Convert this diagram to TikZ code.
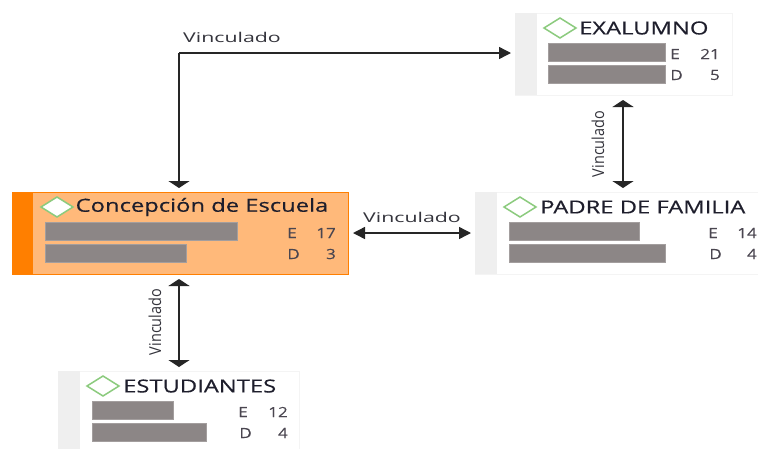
\documentclass[tikz,border=0pt]{standalone}
\usepackage{graphicx}
\usepackage{fontspec}
\setmainfont{Open Sans}
\newfontfamily\titlefont[FakeBold=0.35]{Open Sans}
\newfontfamily\numfont[FakeBold=0.15]{Open Sans}
\usetikzlibrary{arrows.meta}
\definecolor{barc}{HTML}{8C8686}
\definecolor{sidec}{HTML}{EFEFEF}
\definecolor{edgec}{HTML}{F4F4F4}
\definecolor{orangeb}{HTML}{FF7F00}
\definecolor{orangef}{HTML}{FFB97A}
\definecolor{diam}{HTML}{8CCB7E}
\definecolor{txtc}{HTML}{1E1E2C}
\definecolor{numc}{HTML}{4A4650}
\definecolor{labc}{HTML}{34343C}
\newcommand{\wideT}[1]{\scalebox{1.32}[1]{#1}}
\newcommand{\wideN}[1]{\scalebox{1.22}[1]{#1}}
\newcommand{\wideL}[1]{\scalebox{1.58}[1]{#1}}
\newcommand{\wideR}[1]{\scalebox{1.07}[1.22]{#1}}
\tikzset{
  x=1pt,y=-1pt,
  cardbox/.style={draw=edgec,line width=1pt,fill=white,anchor=north west,inner sep=0pt},
  hotbox/.style={draw=orangeb,line width=1pt,fill=orangef,anchor=north west,inner sep=0pt},
  sidebar/.style={fill=sidec,anchor=north west,inner sep=0pt,minimum width=22pt,minimum height=82pt},
  hotbar/.style={sidebar,fill=orangeb,minimum width=21pt},
  databar/.style={fill=barc,draw=barc!80!white,line width=.5pt,anchor=north west,inner sep=0pt,minimum height=18pt},
  gem/.style={draw=diam,line width=1.5pt,fill=white},
  title/.style={anchor=west,inner sep=0pt,text=txtc,font=\titlefont\fontsize{18}{20}\selectfont},
  num/.style={anchor=east,inner sep=0pt,text=numc,font=\numfont\fontsize{14}{16}\selectfont},
  lab/.style={inner sep=0pt,text=labc,font=\fontsize{13.5}{15}\selectfont},
  hlink/.style={line width=1.4pt,draw=black!85,shorten >=4pt,shorten <=4pt},
  vlink/.style={line width=1.7pt,draw=black!85,shorten >=4pt,shorten <=4pt},
  htip/.tip={Triangle[length=12pt,width=12pt]},
  vtip/.tip={Triangle[length=7pt,width=21pt]},
}
\begin{document}
\begin{tikzpicture}
\useasboundingbox (0,0) rectangle (758,448);
\clip (0,0) rectangle (758,448);
% Concepcion de Escuela
\node[hotbox,minimum width=336pt,minimum height=82pt] (conc) at (12,192) {};
\node[hotbar] (concS) at (12,192) {};
\draw[gem] (41,207) -- (57,197) -- (73,207) -- (57,217) -- cycle;
\node[title] (concT) at (75.5,207) {\wideT{Concepción de Escuela}};
\node[databar,minimum width=192pt] (concA) at (45,222) {};
\node[databar,minimum width=141pt] (concB) at (45,244) {};
\node[num] (concE) at (297,233) {\wideN{E}};
\node[num] (concEv) at (336,233) {\wideN{17}};
\node[num] (concD) at (300,254) {\wideN{D}};
\node[num] (concDv) at (336,254) {\wideN{3}};
% Exalumno
\node[cardbox,minimum width=217pt,minimum height=82pt] (exa) at (515,13) {};
\node[sidebar] (exaS) at (515,13) {};
\draw[gem] (544,28) -- (560,18) -- (576,28) -- (560,38) -- cycle;
\node[title] (exaT) at (579,28) {\wideT{EXALUMNO}};
\node[databar,minimum width=117pt] (exaA) at (548,43) {};
\node[databar,minimum width=117pt] (exaB) at (548,65) {};
\node[num] (exaE) at (680,54) {\wideN{E}};
\node[num] (exaEv) at (720,54) {\wideN{21}};
\node[num] (exaD) at (683,75) {\wideN{D}};
\node[num] (exaDv) at (720,75) {\wideN{5}};
% Padre de familia
\node[cardbox,minimum width=300pt,minimum height=82pt] (pad) at (475,192) {};
\node[sidebar] (padS) at (475,192) {};
\draw[gem] (504,207) -- (520,197) -- (536,207) -- (520,217) -- cycle;
\node[title] (padT) at (540,207) {\wideT{PADRE DE FAMILIA}};
\node[databar,minimum width=130pt] (padA) at (509,222) {};
\node[databar,minimum width=156pt] (padB) at (509,244) {};
\node[num] (padE) at (718,233) {\wideN{E}};
\node[num] (padEv) at (757,233) {\wideN{14}};
\node[num] (padD) at (722,254) {\wideN{D}};
\node[num] (padDv) at (757,254) {\wideN{4}};
% Estudiantes
\node[cardbox,minimum width=241pt,minimum height=84pt] (est) at (58,371) {};
\node[sidebar,minimum height=84pt] (estS) at (58,371) {};
\draw[gem] (87,386) -- (103,376) -- (119,386) -- (103,396) -- cycle;
\node[title] (estT) at (123,386) {\wideT{ESTUDIANTES}};
\node[databar,minimum width=81pt] (estA) at (92,401) {};
\node[databar,minimum width=114pt] (estB) at (92,423) {};
\node[num] (estE) at (248,412) {\wideN{E}};
\node[num] (estEv) at (288,412) {\wideN{12}};
\node[num] (estD) at (252,433) {\wideN{D}};
\node[num] (estDv) at (288,433) {\wideN{4}};
% connectors
\coordinate (elbow) at (179,53);
\coordinate (lineR) at (623,140);
\coordinate (lineH) at (410,233);
\coordinate (lineL) at (179,320);
\draw[vlink,shorten <=0pt,-vtip] (elbow) -- (conc.north -| elbow);
\draw[hlink,shorten <=0pt,-htip] (elbow) -- (exa.west |- elbow);
\draw[vlink,vtip-vtip] (exa.south -| lineR) -- (pad.north -| lineR);
\draw[hlink,htip-htip] (conc.east |- lineH) -- (pad.west |- lineH);
\draw[vlink,vtip-vtip] (conc.south -| lineL) -- (est.north -| lineL);
\node[lab] (labTop) at (232,37) {\wideL{Vinculado}};
\node[lab] (labH) at (412,217) {\wideL{Vinculado}};
\node[lab,rotate=90] (labR) at (598,144) {\wideR{Vinculado}};
\node[lab,rotate=90] (labL) at (155,322) {\wideR{Vinculado}};
\end{tikzpicture}
\end{document}
